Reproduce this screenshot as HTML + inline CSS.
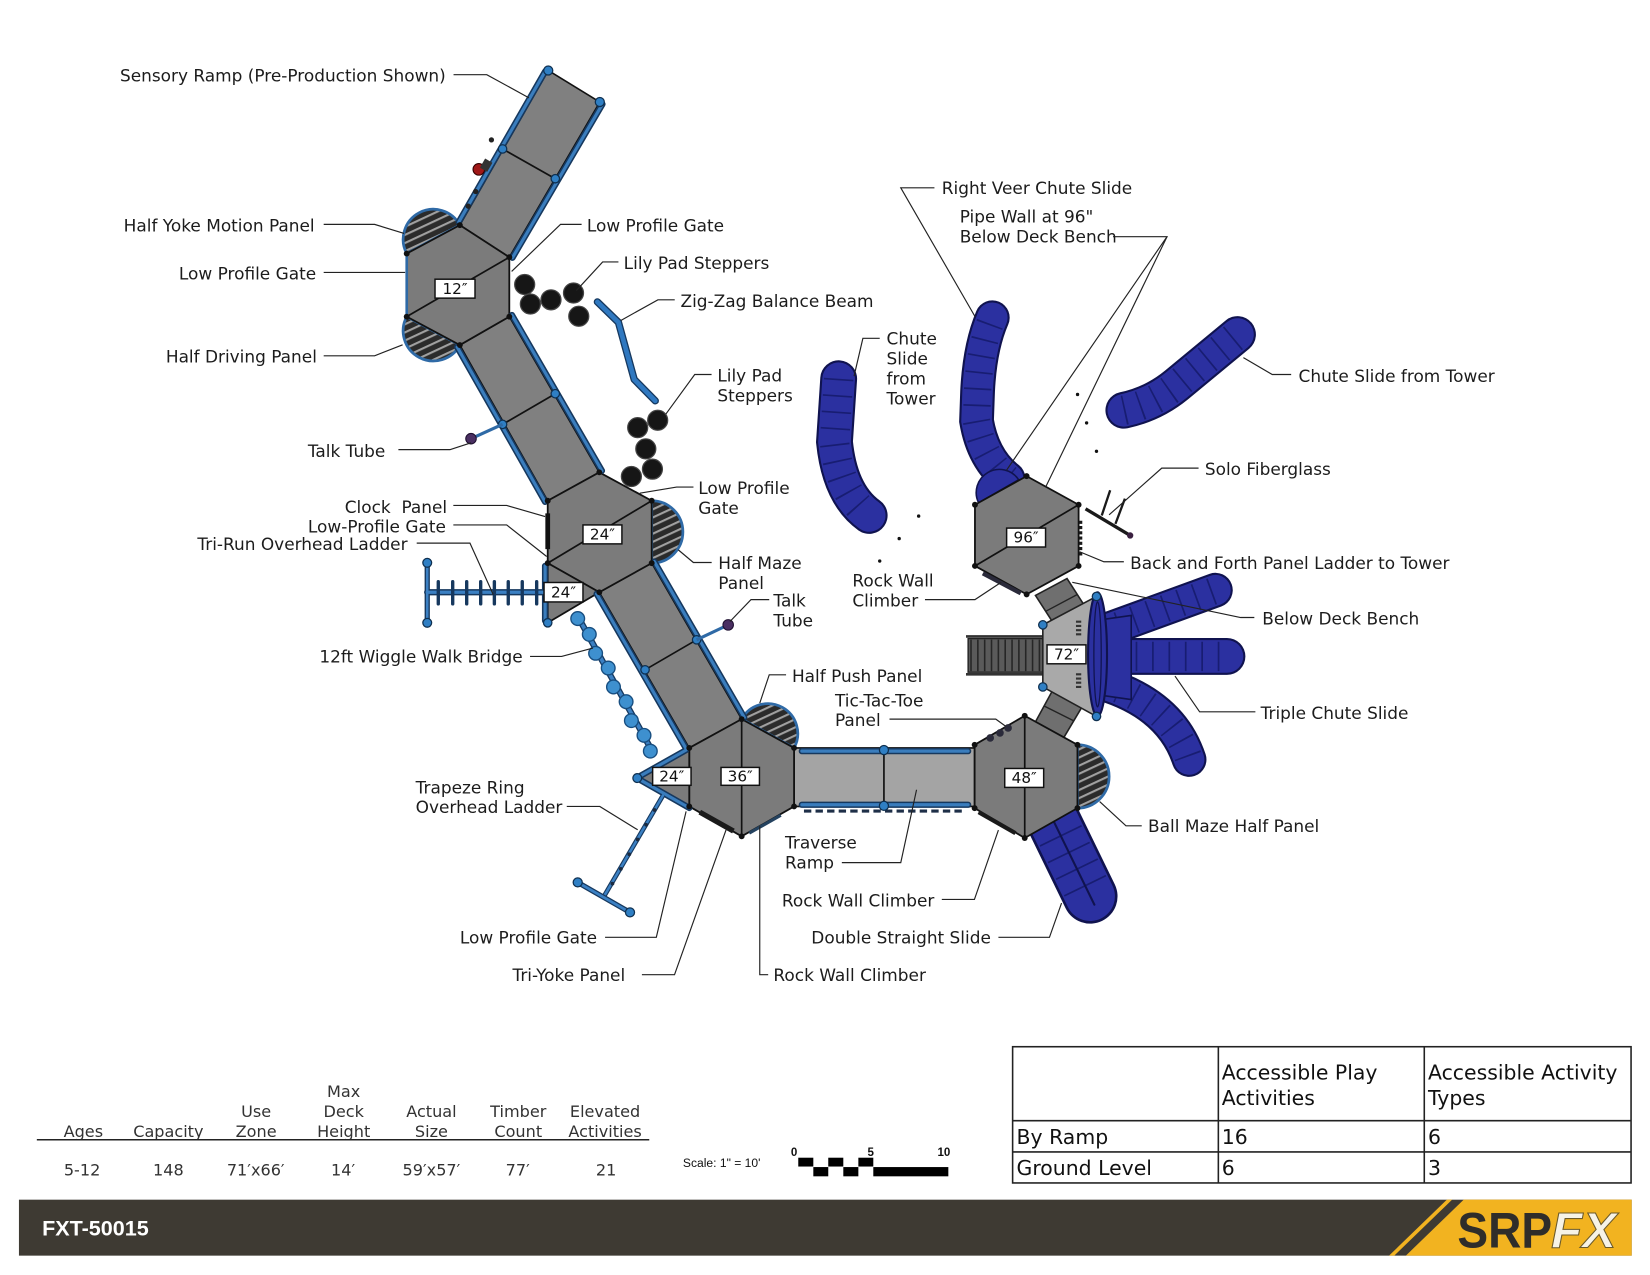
<!DOCTYPE html>
<html>
<head>
<meta charset="utf-8">
<style>
html,body{margin:0;padding:0;background:#fff;}
svg{display:block;}
.lbl{font-family:"DejaVu Sans","Liberation Sans",sans-serif;font-size:16.1px;fill:#1c1c1c;dominant-baseline:central;}
.box{font-family:"DejaVu Sans","Liberation Sans",sans-serif;font-size:14.5px;fill:#111;text-anchor:middle;dominant-baseline:central;}
.st{font-family:"DejaVu Sans","Liberation Sans",sans-serif;font-size:15.3px;fill:#333;text-anchor:middle;dominant-baseline:central;}
.tb{font-family:"DejaVu Sans","Liberation Sans",sans-serif;font-size:19.4px;fill:#111;}
.ld{fill:none;stroke:#222;stroke-width:1.1;}
.deck{fill:#7b7b7b;stroke:#111;stroke-width:1.7;stroke-linejoin:round;}
.ramp{fill:#808080;stroke:#111;stroke-width:1.5;stroke-linejoin:round;}
.kn{fill:#2f7fc4;stroke:#0f3050;stroke-width:1.2;}
.bd{fill:#111;}
.pad{fill:#161616;stroke:#444;stroke-width:1.2;}
</style>
</head>
<body>
<svg width="1650" height="1275" viewBox="0 0 1568 1212" preserveAspectRatio="none" xmlns="http://www.w3.org/2000/svg">
<defs>
<pattern id="mesh" width="7" height="7" patternUnits="userSpaceOnUse" patternTransform="rotate(65)">
<rect width="7" height="7" fill="#2b2b2b"/>
<rect x="0" y="0" width="2" height="7" fill="#a0a0a0"/>
</pattern>
<path id="s1" d="M958,455 Q934,436 928,400 L929,372 Q931,330 943,302" fill="none"/>
<path id="s2" d="M797,360 L793,420 Q798,470 826,490" fill="none"/>
<path id="s3" d="M1068,390 Q1096,384 1118,366 L1176,318" fill="none"/>
<path id="s4" d="M1048,600 L1155,561" fill="none"/>
<path id="s5" d="M1048,624 L1166,624" fill="none"/>
<path id="s6" d="M1048,650 Q1113,670 1130,722" fill="none"/>
<path id="rails" d="M518,68 L436,211 M572.5,99 L487,245 M434.5,330 L518,477 M486.5,299.5 L572,447.5 M567,564.5 L652.5,712.5 M621.8,533.8 L707.3,682 M762,714 L920,714 M762,765 L920,765 M518,538 L518,590 M606,740 L655,768 M606,739 L652,713" fill="none"/>
</defs>

<!-- ============ SLIDES ============ -->
<g stroke-linecap="round" fill="none">
<use href="#s1" stroke="#10134f" stroke-width="33"/>
<use href="#s1" stroke="#2b30a0" stroke-width="29"/>
<use href="#s1" stroke="#181d72" stroke-width="26" stroke-dasharray="1.6 14" stroke-linecap="butt"/>
<use href="#s2" stroke="#10134f" stroke-width="35"/>
<use href="#s2" stroke="#2b30a0" stroke-width="31"/>
<use href="#s2" stroke="#181d72" stroke-width="28" stroke-dasharray="1.6 14" stroke-linecap="butt"/>
<use href="#s3" stroke="#10134f" stroke-width="35"/>
<use href="#s3" stroke="#2b30a0" stroke-width="31"/>
<use href="#s3" stroke="#181d72" stroke-width="28" stroke-dasharray="1.6 14" stroke-linecap="butt"/>
<use href="#s4" stroke="#10134f" stroke-width="33"/>
<use href="#s4" stroke="#2b30a0" stroke-width="29"/>
<use href="#s4" stroke="#181d72" stroke-width="26" stroke-dasharray="1.6 14" stroke-linecap="butt"/>
<use href="#s5" stroke="#10134f" stroke-width="35"/>
<use href="#s5" stroke="#2b30a0" stroke-width="31"/>
<use href="#s5" stroke="#181d72" stroke-width="28" stroke-dasharray="1.6 14" stroke-linecap="butt"/>
<use href="#s6" stroke="#10134f" stroke-width="33"/>
<use href="#s6" stroke="#2b30a0" stroke-width="29"/>
<use href="#s6" stroke="#181d72" stroke-width="26" stroke-dasharray="1.6 14" stroke-linecap="butt"/>
<!-- double straight slide -->
<line x1="1000" y1="778" x2="1036" y2="852" stroke="#10134f" stroke-width="52"/>
<line x1="1000" y1="778" x2="1036" y2="852" stroke="#2b30a0" stroke-width="47"/>
<line x1="1000" y1="778" x2="1036" y2="852" stroke="#181d72" stroke-width="44" stroke-dasharray="1.6 16" stroke-linecap="butt"/>
<line x1="1000" y1="778" x2="1040" y2="860" stroke="#10134f" stroke-width="2"/>
</g>
<!-- navy fan under triple slide -->
<path d="M1040,590 L1075,585 L1075,665 L1040,660 Z" fill="#2b30a0" stroke="#10134f" stroke-width="1.5"/>
<!-- navy dome at 96 -->
<path d="M930,478 A22,22 0 0 1 968,456 Z" fill="#2b30a0" stroke="#10134f" stroke-width="1.5"/>

<!-- ============ HALF PANELS ============ -->
<g stroke="#2f6aa6" stroke-width="2.6">
<path d="M386.5,241 A28.6,28.6 0 0 1 437,214 Z" fill="url(#mesh)"/>
<path d="M386.5,301 A28.6,28.6 0 0 0 437,328 Z" fill="url(#mesh)"/>
<path d="M619.3,476 A29.6,29.6 0 0 1 619.3,535.3 Z" fill="url(#mesh)"/>
<path d="M704.8,683.6 A28.4,28.4 0 0 1 754.6,711 Z" fill="url(#mesh)"/>
<path d="M1023.9,708 A30.1,30.1 0 0 1 1023.9,768.2 Z" fill="url(#mesh)"/>
</g>

<!-- ============ RAMPS ============ -->
<polygon class="ramp" points="521,67 570,97 484,244.5 437,214"/>
<line x1="477.6" y1="141.6" x2="527.7" y2="169.9" stroke="#111" stroke-width="1.6"/>
<polygon class="ramp" points="437,328 484,301 569.5,449 520.5,476"/>
<line x1="477.6" y1="403.4" x2="527.7" y2="374.3" stroke="#111" stroke-width="1.6"/>
<polygon class="ramp" points="569.5,563 619.3,535.3 704.8,683.6 655,711"/>
<line x1="613" y1="636.7" x2="662" y2="608.2" stroke="#111" stroke-width="1.6"/>
<!-- traverse -->
<rect x="754.6" y="711" width="171.6" height="55.6" fill="#a4a4a4" stroke="#111" stroke-width="1.6"/>
<line x1="840" y1="712" x2="840" y2="766" stroke="#111" stroke-width="1.6"/>
<line x1="764" y1="771" x2="918" y2="771" stroke="#1e2f48" stroke-width="3" stroke-dasharray="7 4"/>

<!-- short connector ramps -->
<polygon points="984,566 1014,550 1034,581 1004,597" fill="#6f6f6f" stroke="#222" stroke-width="1.5"/>
<line x1="994" y1="581" x2="1024" y2="565" stroke="#222" stroke-width="1.3"/>
<polygon points="1001,655 1030,669 1011,701 983,688" fill="#6f6f6f" stroke="#222" stroke-width="1.5"/>
<line x1="992" y1="671" x2="1020" y2="685" stroke="#222" stroke-width="1.3"/>

<!-- stairs -->
<rect x="920" y="607" width="72" height="32" fill="#5a5a5a" stroke="#222" stroke-width="1.3"/>
<line x1="922" y1="623" x2="991" y2="623" stroke="#262626" stroke-width="30" stroke-dasharray="1.5 5"/>
<line x1="918" y1="605" x2="992" y2="605" stroke="#333" stroke-width="2.5"/>
<line x1="918" y1="641" x2="992" y2="641" stroke="#333" stroke-width="2.5"/>

<!-- ============ DECKS ============ -->
<polygon class="deck" points="437,214 484,244.5 484,301 437,328 386.5,301 386.5,241"/>
<line x1="386.5" y1="301" x2="484" y2="244.5" stroke="#111" stroke-width="1.6"/>
<polygon class="deck" points="569.5,449 619.3,476 619.3,535.3 569.5,563 520.5,535.3 520.5,476"/>
<line x1="520.5" y1="535.3" x2="619.3" y2="476" stroke="#111" stroke-width="1.6"/>
<polygon class="deck" points="520.5,535.3 569.5,563 520.5,592"/>
<polygon class="deck" points="704.8,683.6 754.6,711 754.6,766.6 704.8,795 655,766.6 655,711"/>
<line x1="704.8" y1="683.6" x2="704.8" y2="795" stroke="#111" stroke-width="1.6"/>
<polygon class="deck" points="655,711 605.6,739.6 655,766.6"/>
<polygon class="deck" points="973.8,680.4 1023.9,708 1023.9,768.2 973.8,796.6 926.2,768.2 926.2,708"/>
<line x1="973.8" y1="680.4" x2="973.8" y2="796.6" stroke="#111" stroke-width="1.6"/>
<polygon class="deck" points="975.6,452.6 1025,479.8 1025,538 975.6,565 926.5,538 926.5,479.8"/>
<line x1="926.5" y1="538" x2="1025" y2="479.8" stroke="#111" stroke-width="1.6"/>
<polygon points="991,594 1042,567 1042,681 991,653" fill="#a9a9a9" stroke="#222" stroke-width="1.5"/>
<line x1="1025" y1="590" x2="1025" y2="606" stroke="#333" stroke-width="5" stroke-dasharray="2 2"/>
<line x1="1025" y1="640" x2="1025" y2="656" stroke="#333" stroke-width="5" stroke-dasharray="2 2"/>
<!-- navy dish -->
<ellipse cx="1043" cy="622" rx="9" ry="59" fill="#2b30a0" stroke="#10134f" stroke-width="2"/>
<ellipse cx="1043" cy="622" rx="3.5" ry="50" fill="none" stroke="#10134f" stroke-width="1.2"/>

<!-- ============ RAILS ============ -->
<use href="#rails" stroke="#16385e" stroke-width="6" stroke-linecap="round"/>
<use href="#rails" stroke="#3a7dbd" stroke-width="3" stroke-linecap="round"/>
<line x1="386.5" y1="243" x2="386.5" y2="299" stroke="#2f6aa6" stroke-width="2.5"/>

<!-- feature bars on deck edges -->
<line x1="520.5" y1="488" x2="520.5" y2="522" stroke="#111" stroke-width="4.5"/>
<line x1="665" y1="772" x2="697" y2="790" stroke="#1a1a1a" stroke-width="5"/>
<line x1="712" y1="792" x2="742" y2="775" stroke="#24425f" stroke-width="3"/>
<line x1="930" y1="772" x2="965" y2="792" stroke="#1a1a1a" stroke-width="4"/>
<line x1="934" y1="545" x2="970" y2="564" stroke="#2a2a3a" stroke-width="4"/>
<line x1="1027" y1="495" x2="1027" y2="530" stroke="#1a1a1a" stroke-width="3" stroke-dasharray="3 2"/>
<circle cx="941" cy="701.5" r="3.6" fill="#2a2a3a"/>
<circle cx="950.3" cy="696.7" r="3.6" fill="#2a2a3a"/>
<circle cx="958" cy="692" r="3.6" fill="#2a2a3a"/>
<!-- sensory ramp items -->
<circle cx="455" cy="161" r="5.5" fill="#a01818" stroke="#300" stroke-width="1"/>
<rect x="458" y="152" width="8" height="10" fill="#333" transform="rotate(30 462 157)"/>
<circle cx="467" cy="133" r="2.5" fill="#222"/>
<circle cx="445" cy="196" r="2.5" fill="#222"/>
<circle cx="452" cy="182" r="2.5" fill="#222"/>

<!-- ============ KNOBS ============ -->
<g class="kn">
<circle cx="521" cy="67" r="4.3"/><circle cx="570" cy="97" r="4.3"/>
<circle cx="477.6" cy="141.6" r="4"/><circle cx="527.7" cy="169.9" r="4"/>
<circle cx="477.6" cy="403.4" r="4"/><circle cx="527.7" cy="374.3" r="4"/>
<circle cx="613" cy="636.7" r="4"/><circle cx="662" cy="608.2" r="4"/>
<circle cx="840" cy="713" r="4.3"/><circle cx="840" cy="766" r="4.3"/>
<circle cx="520.5" cy="592" r="4"/>
<circle cx="991" cy="594" r="4"/><circle cx="991" cy="653" r="4"/>
<circle cx="1042" cy="567" r="4"/><circle cx="1042" cy="681" r="4"/>
</g>
<g class="bd">
<circle cx="437" cy="214" r="2.8"/><circle cx="484" cy="244.5" r="2.8"/><circle cx="484" cy="301" r="2.8"/><circle cx="437" cy="328" r="2.8"/><circle cx="386.5" cy="301" r="2.8"/><circle cx="386.5" cy="241" r="2.8"/>
<circle cx="569.5" cy="449" r="2.8"/><circle cx="619.3" cy="476" r="2.8"/><circle cx="619.3" cy="535.3" r="2.8"/><circle cx="569.5" cy="563" r="2.8"/><circle cx="520.5" cy="535.3" r="2.8"/><circle cx="520.5" cy="476" r="2.8"/>
<circle cx="704.8" cy="683.6" r="2.8"/><circle cx="754.6" cy="711" r="2.8"/><circle cx="754.6" cy="766.6" r="2.8"/><circle cx="704.8" cy="795" r="2.8"/><circle cx="655" cy="766.6" r="2.8"/><circle cx="655" cy="711" r="2.8"/>
<circle cx="973.8" cy="680.4" r="2.8"/><circle cx="1023.9" cy="708" r="2.8"/><circle cx="1023.9" cy="768.2" r="2.8"/><circle cx="973.8" cy="796.6" r="2.8"/><circle cx="926.2" cy="768.2" r="2.8"/><circle cx="926.2" cy="708" r="2.8"/>
<circle cx="975.6" cy="452.6" r="2.8"/><circle cx="1025" cy="479.8" r="2.8"/><circle cx="1025" cy="538" r="2.8"/><circle cx="975.6" cy="565" r="2.8"/><circle cx="926.5" cy="538" r="2.8"/><circle cx="926.5" cy="479.8" r="2.8"/>
</g>

<!-- ============ ACCESSORIES ============ -->
<!-- tri-run ladder -->
<g stroke-linecap="round">
<line x1="406" y1="563" x2="519" y2="563" stroke="#16385e" stroke-width="6"/>
<line x1="406" y1="535" x2="406" y2="592" stroke="#16385e" stroke-width="5"/>
<line x1="406" y1="563" x2="519" y2="563" stroke="#3b80c3" stroke-width="3"/>
<line x1="406" y1="535" x2="406" y2="592" stroke="#3b80c3" stroke-width="2.4"/>
<path d="M416.5,553 V574 M430.2,553 V574 M443.5,553 V574 M456.8,553 V574 M469.8,553 V574 M483,553 V574 M496.3,553 V574 M510,553 V574" stroke="#16385e" stroke-width="3.2"/>
</g>
<circle class="kn" cx="406" cy="535" r="4.2"/><circle class="kn" cx="406" cy="592" r="4.2"/>
<!-- wiggle bridge -->
<line x1="548" y1="584" x2="622" y2="718" stroke="#16385e" stroke-width="6"/>
<line x1="548" y1="584" x2="622" y2="718" stroke="#3b80c3" stroke-width="3.5"/>
<g fill="#3e90cf" stroke="#184e80" stroke-width="1.3">
<circle cx="549" cy="588" r="6.5"/><circle cx="560" cy="603" r="6.5"/><circle cx="566" cy="621" r="6.5"/><circle cx="578" cy="635" r="6.5"/><circle cx="583" cy="653" r="6.5"/><circle cx="595" cy="667" r="6.5"/><circle cx="600" cy="685" r="6.5"/><circle cx="612" cy="699" r="6.5"/><circle cx="618" cy="714" r="6.5"/>
</g>
<!-- trapeze -->
<line x1="630.4" y1="755.5" x2="574" y2="852" stroke="#16385e" stroke-width="4.5"/>
<line x1="630.4" y1="755.5" x2="574" y2="852" stroke="#3b80c3" stroke-width="2.4"/>
<line x1="549" y1="838.8" x2="598.7" y2="867.3" stroke="#16385e" stroke-width="5"/>
<line x1="549" y1="838.8" x2="598.7" y2="867.3" stroke="#3b80c3" stroke-width="2.6"/>
<g fill="#1a2a40"><circle cx="622" cy="770" r="1.8"/><circle cx="614" cy="784" r="1.8"/><circle cx="606" cy="798" r="1.8"/><circle cx="598" cy="812" r="1.8"/><circle cx="590" cy="826" r="1.8"/><circle cx="582" cy="840" r="1.8"/></g>
<circle class="kn" cx="605.6" cy="739.6" r="4.2"/><circle class="kn" cx="549" cy="838.8" r="4.3"/><circle class="kn" cx="598.7" cy="867.3" r="4.3"/>
<!-- talk tubes -->
<line x1="477.6" y1="403.4" x2="447.6" y2="417" stroke="#2f6aa6" stroke-width="3"/>
<circle cx="447.6" cy="417" r="5" fill="#4a2f62" stroke="#1f1030" stroke-width="1"/>
<line x1="662" y1="608.2" x2="692" y2="594" stroke="#2f6aa6" stroke-width="3"/>
<circle cx="692" cy="594" r="5" fill="#4a2f62" stroke="#1f1030" stroke-width="1"/>
<!-- zig-zag beam -->
<polyline points="567.7,287 587.7,306.4 602.7,360.7 622.7,381" fill="none" stroke="#16385e" stroke-width="7" stroke-linecap="round" stroke-linejoin="round"/>
<polyline points="567.7,287 587.7,306.4 602.7,360.7 622.7,381" fill="none" stroke="#2f78c0" stroke-width="4.5" stroke-linecap="round" stroke-linejoin="round"/>
<!-- lily pads -->
<g class="pad">
<circle cx="498.6" cy="270.4" r="9.5"/><circle cx="504" cy="289" r="9.5"/><circle cx="523.6" cy="285" r="9.5"/><circle cx="545" cy="278.5" r="9.5"/><circle cx="550" cy="300.6" r="9.5"/>
<circle cx="625" cy="399.5" r="9.5"/><circle cx="606" cy="406.5" r="9.5"/><circle cx="613.7" cy="426.7" r="9.5"/><circle cx="620" cy="446" r="9.5"/><circle cx="600" cy="453" r="9.5"/>
</g>
<!-- solo fiberglass -->
<line x1="1031.6" y1="483.7" x2="1074" y2="509" stroke="#1a1a1a" stroke-width="3.2"/>
<line x1="1047" y1="490" x2="1055" y2="466" stroke="#1a1a1a" stroke-width="2.2"/>
<line x1="1060" y1="498" x2="1069" y2="474" stroke="#1a1a1a" stroke-width="2.2"/>
<circle cx="1074" cy="509" r="3" fill="#3a2040"/>
<!-- dots -->
<g fill="#111"><circle cx="1024" cy="375" r="1.6"/><circle cx="1032.6" cy="402" r="1.6"/><circle cx="1042" cy="429" r="1.6"/><circle cx="873" cy="490.6" r="1.6"/><circle cx="854.5" cy="512" r="1.6"/><circle cx="836" cy="533.3" r="1.6"/></g>

<!-- ============ HEIGHT LABELS ============ -->
<g fill="#fff" stroke="#111" stroke-width="1.4">
<rect x="413.4" y="265.4" width="38" height="18"/>
<rect x="554" y="499" width="37" height="18"/>
<rect x="517" y="553.7" width="37" height="18.5"/>
<rect x="685.2" y="729.5" width="36.5" height="17"/>
<rect x="620.2" y="729.5" width="36.5" height="17"/>
<rect x="954.8" y="730.5" width="37" height="18"/>
<rect x="956.6" y="502" width="37" height="18"/>
<rect x="995" y="613" width="37" height="18"/>
</g>
<text class="box" x="432.4" y="274.5">12″</text>
<text class="box" x="572.5" y="508">24″</text>
<text class="box" x="535.5" y="563">24″</text>
<text class="box" x="703.4" y="738">36″</text>
<text class="box" x="638.4" y="738">24″</text>
<text class="box" x="973.3" y="739.5">48″</text>
<text class="box" x="975.1" y="511">96″</text>
<text class="box" x="1013.5" y="622">72″</text>

<!-- ============ LEADERS ============ -->
<g class="ld">
<polyline points="431,71 462.6,71 502.7,93"/>
<polyline points="307.6,213.3 356,213.3 384,221.9"/>
<polyline points="307.6,259 385,259"/>
<polyline points="307.6,338.2 356,338.2 382.6,327.8"/>
<polyline points="552.7,213.3 532.7,213.3 486.2,258"/>
<polyline points="587.7,249 572.7,249 547.7,276.2"/>
<polyline points="641.2,285 625.2,285 590.2,304.5"/>
<polyline points="676.2,356 660.2,356 632.7,393.7"/>
<polyline points="378.6,427.4 427.6,427.4 447.6,420.9"/>
<polyline points="430.8,480.5 481.5,480.5 518,491"/>
<polyline points="430.8,499 481.5,499 519.5,529"/>
<polyline points="396,516.3 446.6,516.3 468.8,565.4"/>
<polyline points="659,463 643,463 608,468.8"/>
<polyline points="676.3,534.7 658.9,534.7 644.6,522.7"/>
<polyline points="731,570 713.7,570 693.7,590.8"/>
<polyline points="503.7,624 533.7,624 563.5,616"/>
<polyline points="747,641.5 731,641.5 722,668.4"/>
<polyline points="845.3,683.6 946.3,683.6 956,690.6"/>
<polyline points="538.6,766.6 570,766.6 606,788.8"/>
<polyline points="800,820 856,820 871,750.7"/>
<polyline points="895,855 926,855 948.8,789"/>
<polyline points="948.8,891 997.3,891 1008.8,858.4"/>
<polyline points="575,891 623.7,891 652,771.3"/>
<polyline points="610,926.5 641,926.5 690,788.8"/>
<polyline points="730,926.5 722,926.5 722,785.6"/>
<polyline points="888,178.5 856,178.5 926.6,301"/>
<polyline points="1057.7,225 1109,225 956.6,446.8"/>
<polyline points="1109,225 994,462.3"/>
<polyline points="836,321.6 820,321.6 811.6,357.6"/>
<polyline points="1227,356 1209,356 1181.6,340"/>
<polyline points="1139,445 1104,445 1054,489.4"/>
<polyline points="1068,534 1049,534 1026,524.5"/>
<polyline points="879,570 926.5,570 951.5,553.5"/>
<polyline points="1192,587 1179,587 1019,553.5"/>
<polyline points="1193,676.6 1140,676.6 1116.6,642.7"/>
<polyline points="1085,785 1070,785 1045,762"/>
</g>

<!-- ============ LABEL TEXT ============ -->
<g class="lbl">
<text x="114" y="72">Sensory Ramp (Pre-Production Shown)</text>
<text x="117.5" y="214.6">Half Yoke Motion Panel</text>
<text x="170" y="260">Low Profile Gate</text>
<text x="157.6" y="339">Half Driving Panel</text>
<text x="557.7" y="214.5">Low Profile Gate</text>
<text x="592.7" y="250">Lily Pad Steppers</text>
<text x="646.7" y="286">Zig-Zag Balance Beam</text>
<text x="681.7" y="357">Lily Pad</text>
<text x="681.7" y="376">Steppers</text>
<text x="292.6" y="428.6">Talk Tube</text>
<text x="327.6" y="482" xml:space="preserve">Clock  Panel</text>
<text x="292.6" y="500.4">Low-Profile Gate</text>
<text x="187.6" y="517">Tri-Run Overhead Ladder</text>
<text x="663.6" y="464">Low Profile</text>
<text x="663.6" y="483">Gate</text>
<text x="682.6" y="535.3">Half Maze</text>
<text x="682.6" y="554.3">Panel</text>
<text x="735" y="571">Talk</text>
<text x="735" y="590">Tube</text>
<text x="303.5" y="624">12ft Wiggle Walk Bridge</text>
<text x="752.6" y="642.4">Half Push Panel</text>
<text x="793.5" y="665.8">Tic-Tac-Toe</text>
<text x="793.5" y="684.2">Panel</text>
<text x="395" y="748.5">Trapeze Ring</text>
<text x="395" y="767">Overhead Ladder</text>
<text x="746" y="801">Traverse</text>
<text x="746" y="820">Ramp</text>
<text x="743" y="856">Rock Wall Climber</text>
<text x="771" y="891">Double Straight Slide</text>
<text x="437" y="891">Low Profile Gate</text>
<text x="487" y="927">Tri-Yoke Panel</text>
<text x="735" y="927">Rock Wall Climber</text>
<text x="895" y="178.5">Right Veer Chute Slide</text>
<text x="912" y="206">Pipe Wall at 96"</text>
<text x="912" y="225">Below Deck Bench</text>
<text x="842.5" y="321.6">Chute</text>
<text x="842.5" y="340.6">Slide</text>
<text x="842.5" y="359.6">from</text>
<text x="842.5" y="378.6">Tower</text>
<text x="1234" y="357.6">Chute Slide from Tower</text>
<text x="1145" y="446">Solo Fiberglass</text>
<text x="1074" y="535">Back and Forth Panel Ladder to Tower</text>
<text x="810" y="552">Rock Wall</text>
<text x="810" y="571">Climber</text>
<text x="1199.5" y="588">Below Deck Bench</text>
<text x="1198" y="677.6">Triple Chute Slide</text>
<text x="1091" y="785">Ball Maze Half Panel</text>
</g>

<!-- ============ STATS ============ -->
<g class="st">
<text x="326.6" y="1037.4">Max</text>
<text x="243.4" y="1056.4">Use</text>
<text x="326.6" y="1056.4">Deck</text>
<text x="410" y="1056.4">Actual</text>
<text x="492.5" y="1056.4">Timber</text>
<text x="575" y="1056.4">Elevated</text>
<text x="79.2" y="1075.4">Ages</text>
<text x="160" y="1075.4">Capacity</text>
<text x="243.4" y="1075.4">Zone</text>
<text x="326.6" y="1075.4">Height</text>
<text x="410" y="1075.4">Size</text>
<text x="492.5" y="1075.4">Count</text>
<text x="575" y="1075.4">Activities</text>
<text x="78" y="1112">5-12</text>
<text x="160" y="1112">148</text>
<text x="243" y="1112">71′x66′</text>
<text x="326" y="1112">14′</text>
<text x="410" y="1112">59′x57′</text>
<text x="492" y="1112">77′</text>
<text x="576" y="1112">21</text>
</g>
<line x1="35" y1="1083.4" x2="617" y2="1083.4" stroke="#222" stroke-width="1.4"/>

<!-- scale -->
<text x="649" y="1109.5" font-family="Liberation Sans, Arial, sans-serif" font-size="11.5" fill="#111">Scale: 1" = 10'</text>
<g font-family="Liberation Sans, Arial, sans-serif" font-size="11" font-weight="bold" fill="#111" text-anchor="middle">
<text x="754.6" y="1099">0</text><text x="827.4" y="1099">5</text><text x="897" y="1099">10</text>
</g>
<g fill="#000">
<rect x="758.6" y="1100.5" width="14.3" height="8.4"/>
<rect x="787.1" y="1100.5" width="14.3" height="8.4"/>
<rect x="815.7" y="1100.5" width="14.2" height="8.4"/>
<rect x="772.9" y="1109.4" width="14.2" height="8.8"/>
<rect x="801.4" y="1109.4" width="14.3" height="8.8"/>
<rect x="829.9" y="1109.4" width="71.3" height="8.8"/>
</g>

<!-- ============ TABLE ============ -->
<g stroke="#222" stroke-width="1.5" fill="none">
<rect x="962.3" y="995" width="587.7" height="129.5"/>
<line x1="1157.8" y1="995" x2="1157.8" y2="1124.5"/>
<line x1="1353.5" y1="995" x2="1353.5" y2="1124.5"/>
<line x1="962.3" y1="1065.3" x2="1550" y2="1065.3"/>
<line x1="962.3" y1="1095" x2="1550" y2="1095"/>
</g>
<g class="tb">
<text x="1161" y="1026">Accessible Play</text>
<text x="1161" y="1050.5">Activities</text>
<text x="1357" y="1026">Accessible Activity</text>
<text x="1357" y="1050.5">Types</text>
<text x="966" y="1087.5">By Ramp</text>
<text x="1161" y="1087.5">16</text>
<text x="1357" y="1087.5">6</text>
<text x="966" y="1117">Ground Level</text>
<text x="1161" y="1117">6</text>
<text x="1357" y="1117">3</text>
</g>

<!-- ============ FOOTER BAR ============ -->
<rect x="18" y="1140.4" width="1532.6" height="53.2" fill="#3e3a33"/>
<polygon points="1391,1140.4 1550.6,1140.4 1550.6,1193.6 1336,1193.6" fill="#f2b320"/>
<polygon points="1375,1140.4 1380,1140.4 1325,1193.6 1320,1193.6" fill="#f2b320"/>
<text x="40" y="1174.5" font-family="Liberation Sans, Arial, sans-serif" font-size="20.5" font-weight="bold" fill="#fff">FXT-50015</text>
<text x="1385" y="1186" font-family="Liberation Sans, Arial, sans-serif" font-size="48" font-weight="bold" fill="#2f2d2a" textLength="90" lengthAdjust="spacingAndGlyphs">SRP</text>
<text x="1474" y="1186" font-family="Liberation Sans, Arial, sans-serif" font-size="48" font-weight="bold" font-style="italic" fill="#f7f3e6" stroke="#6b5a2a" stroke-width="1" textLength="62" lengthAdjust="spacingAndGlyphs">FX</text>
</svg>
</body>
</html>
